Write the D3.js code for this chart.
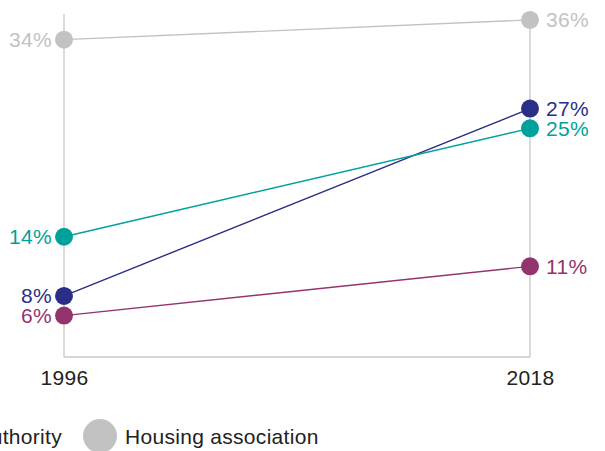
<!DOCTYPE html>
<html>
<head>
<meta charset="utf-8">
<script src="https://cdn.jsdelivr.net/npm/d3@7"></script>
<style>
  body { margin: 0; background: #fff; }
  svg text { font-family: "Liberation Sans", Arial, Helvetica, sans-serif; letter-spacing: 0.3px; }
</style>
</head>
<body>
<div class="chart"></div>
<script>
// data
var years = ["1996", "2018"];
var seriesNames = ["Private rented", "Owner occupied", "Local authority", "Housing association"];
var startValues = [8, 14, 6, 34];
var endValues = [27, 25, 11, 36];
var colors = ["#2b2e87", "#00a19b", "#94346c", "#c2c2c2"];

var width = 605, height = 451;
var fs = 21;

var svg = d3.select(".chart").append("svg")
    .attr("width", width)
    .attr("height", height);

var x = d3.scalePoint().domain(years).range([64, 530]);
var y = d3.scaleLinear().domain([1.8, 36.6]).range([357, 14]);

// axis frame: two verticals + baseline
var g = svg.append("g");
years.forEach(function(yr) {
    g.append("line")
        .attr("x1", x(yr)).attr("x2", x(yr))
        .attr("y1", y.range()[1]).attr("y2", y.range()[0])
        .attr("stroke", "#c8c8c8").attr("stroke-width", 1.3);
});
g.append("line")
    .attr("x1", x(years[0])).attr("x2", x(years[1]))
    .attr("y1", y.range()[0]).attr("y2", y.range()[0])
    .attr("stroke", "#c8c8c8").attr("stroke-width", 1.3);

var xAxis = d3.axisBottom(x).tickSize(0).tickPadding(13);
svg.append("g")
    .attr("transform", "translate(0," + y.range()[0] + ")")
    .call(xAxis)
    .call(function(a) { a.select(".domain").remove(); })
    .selectAll("text")
    .attr("font-size", fs)
    .attr("fill", "#222")
    .style("font-family", "\"Liberation Sans\", Arial, sans-serif");

var rows = seriesNames.map(function(n, i) {
    return { name: n, a: startValues[i], b: endValues[i], color: colors[i] };
});

// slope lines
svg.append("g").selectAll("line")
    .data(rows).enter().append("line")
    .attr("x1", x(years[0])).attr("x2", x(years[1]))
    .attr("y1", function(d) { return y(d.a); })
    .attr("y2", function(d) { return y(d.b); })
    .attr("stroke", function(d) { return d.color; })
    .attr("stroke-width", 1.4);

// dots + labels
var pts = [];
rows.forEach(function(d) {
    pts.push({ yr: years[0], v: d.a, color: d.color, side: "left" });
    pts.push({ yr: years[1], v: d.b, color: d.color, side: "right" });
});

svg.append("g").selectAll("circle")
    .data(pts).enter().append("circle")
    .attr("cx", function(d) { return x(d.yr); })
    .attr("cy", function(d) { return y(d.v); })
    .attr("r", 9)
    .attr("fill", function(d) { return d.color; });

svg.append("g").selectAll("text")
    .data(pts).enter().append("text")
    .attr("x", function(d) { return d.side == "left" ? x(d.yr) - 12 : x(d.yr) + 16; })
    .attr("y", function(d) { return y(d.v); })
    .attr("dy", "0.36em")
    .attr("text-anchor", function(d) { return d.side == "left" ? "end" : "start"; })
    .attr("font-size", fs)
    .attr("fill", function(d) { return d.color; })
    .text(function(d) { return d.v + "%"; });

// legend, laid out left to right, shifted so that the last item sits where it does in the original
var legend = svg.append("g");
var lx = 0, items = [];
rows.forEach(function(d, i) {
    var it = legend.append("g").attr("transform", "translate(" + lx + ",0)");
    it.append("circle").attr("cx", 17).attr("cy", 0).attr("r", 17).attr("fill", d.color);
    var t = it.append("text").attr("x", 42).attr("y", 0).attr("dy", "0.36em")
        .attr("font-size", fs).attr("fill", "#222").text(d.name);
    items.push(lx);
    lx += 42 + t.node().getComputedTextLength() + 21;
});
var shift = 83 - items[items.length - 1];
legend.attr("transform", "translate(" + shift + ",436)");
</script>
</body>
</html>
